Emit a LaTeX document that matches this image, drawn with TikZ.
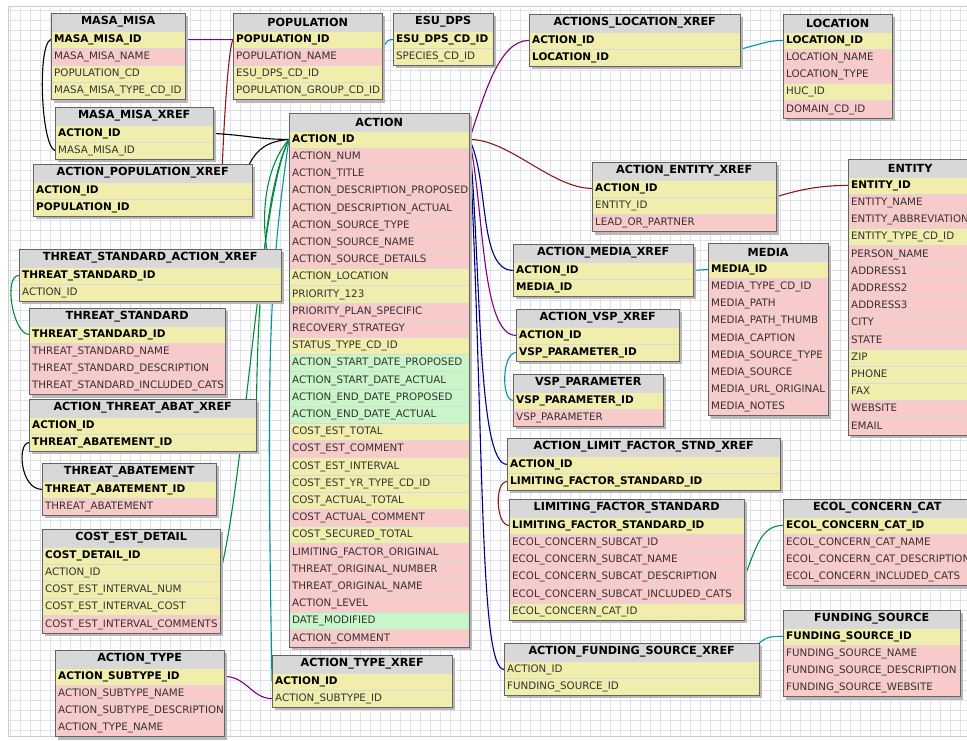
\documentclass[tikz,border=0pt]{standalone}
\usepackage{fontspec}
\usetikzlibrary{calc}
\newfontfamily\erfont{DejaVu Sans}

\definecolor{rowyel}{RGB}{241,237,172}
\definecolor{rowpink}{RGB}{249,202,202}
\definecolor{rowgreen}{RGB}{200,246,200}
\definecolor{headgray}{RGB}{216,216,216}
\definecolor{tabline}{RGB}{100,100,100}
\definecolor{gridcol}{RGB}{222,224,234}
\definecolor{lnpurple}{RGB}{128,0,128}
\definecolor{lnred}{RGB}{139,26,26}
\definecolor{lnteal}{RGB}{0,150,160}
\definecolor{lnnavy}{RGB}{0,0,128}
\definecolor{lngreen}{RGB}{0,140,60}

\pgfdeclarelayer{grid}
\pgfdeclarelayer{links}
\pgfdeclarelayer{shade}
\pgfsetlayers{grid,links,shade,main}

\tikzset{
  gridline/.style={draw=gridcol, line width=0.6, step=10},
  tabhead/.style={draw=tabline, fill=headgray, anchor=north west, inner sep=0,
    minimum height=17.6, font=\erfont\bfseries\fontsize{11.2}{13}\selectfont},
  tabrow/.style={draw=black!15, anchor=north west, inner xsep=3, inner ysep=0,
    minimum height=17.2, align=left, text height=7.6, text depth=2,
    font=\erfont\fontsize{10.3}{12}\selectfont, text=black!80},
  pk/.style={fill=rowyel, font=\erfont\bfseries\fontsize{10.5}{12}\selectfont, text=black},
  yl/.style={fill=rowyel},
  rd/.style={fill=rowpink},
  gn/.style={fill=rowgreen},
  tabborder/.style={draw=tabline, line width=0.8},
  tabshadow/.style={fill=black!28},
  fk/.style={line width=1.1},
}

% name, x, y from top, width, title, rows
\newcommand\dbtable[6]{%
  \node[tabhead, minimum width=#4] (#1) at (#2,-#3) {#5};
  \pgfmathsetmacro\rowtw{#4-6}
  \foreach \rs/\rt [count=\ri] in {#6}{%
    \node[tabrow, \rs, text width=\rowtw pt] (#1-\ri) at (#2,{-#3-17.6-(\ri-1)*17.2}) {\rt};
    \xdef\rowlast{\ri}}
  \draw[tabborder] (#1.north west) rectangle (#1-\rowlast.south east);
  \begin{pgfonlayer}{shade}
    \fill[tabshadow] ($(#1.north west)+(3,-3)$) rectangle ($(#1-\rowlast.south east)+(3,-3)$);
  \end{pgfonlayer}
}

\begin{document}
\catcode`\_=12
\begin{tikzpicture}[x=1pt,y=1pt]
\useasboundingbox (0,0) rectangle (967,-740);
\begin{pgfonlayer}{grid}
  \fill[white] (0,0) rectangle (967,-740);
  \draw[gridline] (8,-6) grid (967,-736);
  \draw[black!20] (8,-6) rectangle (967,-736);
\end{pgfonlayer}

% tables
\dbtable{mm}{51}{13}{134}{MASA_MISA}{pk/MASA_MISA_ID, rd/MASA_MISA_NAME, yl/POPULATION_CD, yl/MASA_MISA_TYPE_CD_ID}
\dbtable{pop}{233}{13}{149}{POPULATION}{pk/POPULATION_ID, rd/POPULATION_NAME, yl/ESU_DPS_CD_ID, yl/POPULATION_GROUP_CD_ID}
\dbtable{esu}{393}{13}{100}{ESU_DPS}{pk/ESU_DPS_CD_ID, yl/SPECIES_CD_ID}
\dbtable{mmx}{55}{107}{158}{MASA_MISA_XREF}{pk/ACTION_ID, yl/MASA_MISA_ID}
\dbtable{apx}{33}{164}{219}{ACTION_POPULATION_XREF}{pk/ACTION_ID, pk/POPULATION_ID}
\dbtable{act}{289}{113}{180}{ACTION}{pk/ACTION_ID, rd/ACTION_NUM, rd/ACTION_TITLE, rd/ACTION_DESCRIPTION_PROPOSED, rd/ACTION_DESCRIPTION_ACTUAL, rd/ACTION_SOURCE_TYPE, rd/ACTION_SOURCE_NAME, rd/ACTION_SOURCE_DETAILS, yl/ACTION_LOCATION, yl/PRIORITY_123, rd/PRIORITY_PLAN_SPECIFIC, rd/RECOVERY_STRATEGY, yl/STATUS_TYPE_CD_ID, gn/ACTION_START_DATE_PROPOSED, gn/ACTION_START_DATE_ACTUAL, gn/ACTION_END_DATE_PROPOSED, gn/ACTION_END_DATE_ACTUAL, yl/COST_EST_TOTAL, rd/COST_EST_COMMENT, yl/COST_EST_INTERVAL, yl/COST_EST_YR_TYPE_CD_ID, yl/COST_ACTUAL_TOTAL, rd/COST_ACTUAL_COMMENT, yl/COST_SECURED_TOTAL, rd/LIMITING_FACTOR_ORIGINAL, rd/THREAT_ORIGINAL_NUMBER, rd/THREAT_ORIGINAL_NAME, rd/ACTION_LEVEL, gn/DATE_MODIFIED, rd/ACTION_COMMENT}
\dbtable{alx}{529}{14}{211}{ACTIONS_LOCATION_XREF}{pk/ACTION_ID, pk/LOCATION_ID}
\dbtable{loc}{783}{14}{109}{LOCATION}{pk/LOCATION_ID, rd/LOCATION_NAME, rd/LOCATION_TYPE, yl/HUC_ID, rd/DOMAIN_CD_ID}
\dbtable{aex}{592}{162}{184}{ACTION_ENTITY_XREF}{pk/ACTION_ID, yl/ENTITY_ID, rd/LEAD_OR_PARTNER}
\dbtable{ent}{848}{159}{124}{ENTITY}{pk/ENTITY_ID, rd/ENTITY_NAME, rd/ENTITY_ABBREVIATION, yl/ENTITY_TYPE_CD_ID, rd/PERSON_NAME, rd/ADDRESS1, rd/ADDRESS2, rd/ADDRESS3, rd/CITY, rd/STATE, yl/ZIP, yl/PHONE, yl/FAX, rd/WEBSITE, rd/EMAIL}
\dbtable{amx}{513}{244}{180}{ACTION_MEDIA_XREF}{pk/ACTION_ID, pk/MEDIA_ID}
\dbtable{med}{708}{243}{120}{MEDIA}{pk/MEDIA_ID, rd/MEDIA_TYPE_CD_ID, rd/MEDIA_PATH, rd/MEDIA_PATH_THUMB, rd/MEDIA_CAPTION, rd/MEDIA_SOURCE_TYPE, rd/MEDIA_SOURCE, rd/MEDIA_URL_ORIGINAL, rd/MEDIA_NOTES}
\dbtable{avx}{516}{309}{163}{ACTION_VSP_XREF}{pk/ACTION_ID, pk/VSP_PARAMETER_ID}
\dbtable{vsp}{513}{374}{150}{VSP_PARAMETER}{pk/VSP_PARAMETER_ID, rd/VSP_PARAMETER}
\dbtable{alfx}{507}{438}{273}{ACTION_LIMIT_FACTOR_STND_XREF}{pk/ACTION_ID, pk/LIMITING_FACTOR_STANDARD_ID}
\dbtable{lfs}{509}{499}{235}{LIMITING_FACTOR_STANDARD}{pk/LIMITING_FACTOR_STANDARD_ID, rd/ECOL_CONCERN_SUBCAT_ID, rd/ECOL_CONCERN_SUBCAT_NAME, rd/ECOL_CONCERN_SUBCAT_DESCRIPTION, rd/ECOL_CONCERN_SUBCAT_INCLUDED_CATS, yl/ECOL_CONCERN_CAT_ID}
\dbtable{ecc}{783}{499}{188}{ECOL_CONCERN_CAT}{pk/ECOL_CONCERN_CAT_ID, rd/ECOL_CONCERN_CAT_NAME, rd/ECOL_CONCERN_CAT_DESCRIPTION, rd/ECOL_CONCERN_INCLUDED_CATS}
\dbtable{fs}{783}{610}{177}{FUNDING_SOURCE}{pk/FUNDING_SOURCE_ID, rd/FUNDING_SOURCE_NAME, rd/FUNDING_SOURCE_DESCRIPTION, rd/FUNDING_SOURCE_WEBSITE}
\dbtable{afx}{504}{643}{255}{ACTION_FUNDING_SOURCE_XREF}{yl/ACTION_ID, yl/FUNDING_SOURCE_ID}
\dbtable{tsx}{19}{249}{262}{THREAT_STANDARD_ACTION_XREF}{pk/THREAT_STANDARD_ID, yl/ACTION_ID}
\dbtable{ts}{29}{308}{196}{THREAT_STANDARD}{pk/THREAT_STANDARD_ID, rd/THREAT_STANDARD_NAME, rd/THREAT_STANDARD_DESCRIPTION, rd/THREAT_STANDARD_INCLUDED_CATS}
\dbtable{atx}{29}{399}{227}{ACTION_THREAT_ABAT_XREF}{pk/ACTION_ID, pk/THREAT_ABATEMENT_ID}
\dbtable{ta}{42}{463}{174}{THREAT_ABATEMENT}{pk/THREAT_ABATEMENT_ID, rd/THREAT_ABATEMENT}
\dbtable{ced}{42}{529}{178}{COST_EST_DETAIL}{pk/COST_DETAIL_ID, yl/ACTION_ID, yl/COST_EST_INTERVAL_NUM, yl/COST_EST_INTERVAL_COST, rd/COST_EST_INTERVAL_COMMENTS}
\dbtable{atype}{55}{650}{169}{ACTION_TYPE}{pk/ACTION_SUBTYPE_ID, rd/ACTION_SUBTYPE_NAME, rd/ACTION_SUBTYPE_DESCRIPTION, rd/ACTION_TYPE_NAME}
\dbtable{atyx}{272}{655}{180}{ACTION_TYPE_XREF}{pk/ACTION_ID, yl/ACTION_SUBTYPE_ID}

% relationships
\begin{pgfonlayer}{links}
\draw[fk, black] (mm-1.west) .. controls +(-14,-5) and +(-14,5) .. (mmx-2.west);
\draw[fk, lnpurple] (mm-1.east) .. controls +(25,0) and +(-20,0) .. (pop-1.west);
\draw[fk, lnred] (pop-1.west) .. controls +(-5,-10) and +(1,30) .. ($(apx.north east)+(-30,0)$);
\draw[fk, lnteal] (pop-2.north east) .. controls +(5,6) and +(-6,0) .. (esu-1.west);
\draw[fk, black] (mmx-1.east) .. controls +(35,-2) and +(-30,0) .. (act-1.west);
\draw[fk, black] ($(apx.north east)+(-3,0)$) .. controls +(8,15) and +(-22,-2) .. (act-1.west);
\draw[fk, lngreen] (act-1.west) .. controls +(-35,-40) and +(-20,30) .. (tsx-2.east);
\draw[fk, lngreen] (act-1.west) .. controls +(-30,-60) and +(0,60) .. (atx-1.east);
\draw[fk, lngreen] (act-1.west) .. controls +(-30,-60) and +(25,100) .. (ced-2.east);
\draw[fk, lnteal] (act-1.west) .. controls +(-22,-150) and +(-5,300) .. (atyx-1.west);
\draw[fk, lnpurple] (atype-1.east) .. controls +(22,0) and +(-20,0) .. (atyx-2.west);
\draw[fk, lngreen] (tsx-1.west) .. controls +(-16,0) and +(-16,0) .. (ts-1.west);
\draw[fk, black] (atx-2.west) .. controls +(-12,0) and +(-22,0) .. (ta-1.west);
\draw[fk, lnpurple] (act-1.east) .. controls +(15,45) and +(-30,0) .. (alx-1.west);
\draw[fk, lnred] (act-1.east) .. controls +(40,0) and +(-40,0) .. (aex-1.west);
\draw[fk, lnred] (aex-2.north east) .. controls +(25,8) and +(-25,0) .. (ent-1.west);
\draw[fk, lnteal] (alx-1.south east) .. controls +(20,5) and +(-15,0) .. (loc-1.west);
\draw[fk, lnnavy] (act-1.east) .. controls +(20,-40) and +(-35,0) .. (amx-1.west);
\draw[fk, lnteal] (amx-1.east) .. controls +(8,0) and +(-8,0) .. (med-1.west);
\draw[fk, lnpurple] (act-1.east) .. controls +(15,-70) and +(-35,0) .. (avx-1.west);
\draw[fk, lnteal] (avx-2.west) .. controls +(-14,0) and +(-12,0) .. (vsp-1.west);
\draw[fk, lnnavy] (act-1.east) .. controls +(12,-130) and +(-30,0) .. (alfx-1.west);
\draw[fk, lnred] (alfx-2.west) .. controls +(-13,0) and +(-13,0) .. (lfs-1.west);
\draw[fk, lngreen] (lfs-4.east) .. controls +(12,30) and +(-22,0) .. (ecc-1.west);
\draw[fk, lnnavy] (act-1.east) .. controls +(15,-300) and +(-25,0) .. (afx-1.west);
\draw[fk, lnteal] (afx.north east) .. controls +(8,7) and +(-10,0) .. (fs-1.west);
\end{pgfonlayer}
\end{tikzpicture}
\end{document}
